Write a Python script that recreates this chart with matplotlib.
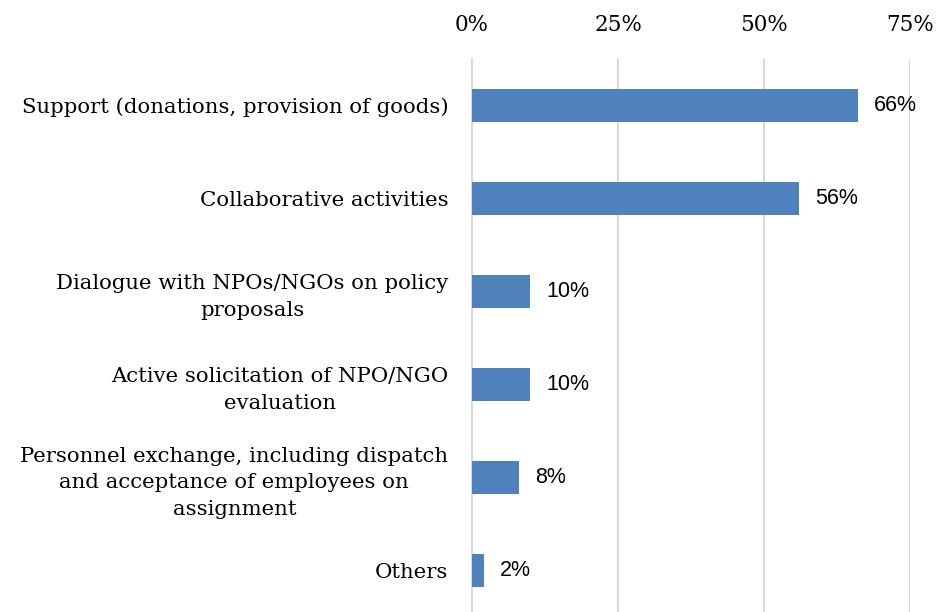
import matplotlib
matplotlib.use('Agg')
import matplotlib.pyplot as plt
from matplotlib.ticker import FuncFormatter

# Survey results: forms of engagement with NPOs/NGOs
categories = [
    'Support (donations, provision of goods)',
    'Collaborative activities',
    'Dialogue with NPOs/NGOs on policy\nproposals',
    'Active solicitation of NPO/NGO\nevaluation',
    'Personnel exchange, including dispatch\nand acceptance of employees on\nassignment',
    'Others',
]
shares = [66, 56, 10, 10, 8, 2]
ticks = [0, 25, 50, 75]

BAR_COLOR = '#4F81BD'
GRID_COLOR = '#D9D9D9'
SERIF = ['DejaVu Serif']
SANS = ['Liberation Sans', 'DejaVu Sans']

fig = plt.figure(figsize=(9.39, 6.12), dpi=100)
ax = fig.add_axes([0.5027, -0.0074, 0.4665, 0.911])

ypos = list(range(len(categories)))
ax.barh(ypos, shares, height=0.355, color=BAR_COLOR, zorder=3)

ax.set_xlim(0, 75)
ax.set_ylim(len(categories) - 0.5, -0.5)
ax.set_xticks(ticks)
ax.xaxis.set_major_formatter(FuncFormatter(lambda v, p: f'{v:.0f}%'))
ax.xaxis.tick_top()
ax.tick_params(axis='x', length=0, pad=16.5)
ax.tick_params(axis='y', length=0, pad=17)
for lbl in ax.get_xticklabels():
    lbl.set_fontfamily(SERIF)
    lbl.set_fontsize(15.5)

ax.set_yticks(ypos)
ax.set_yticklabels(categories, fontsize=15.3, family=SERIF,
                   multialignment='center', linespacing=1.5)

ax.grid(axis='x', color=GRID_COLOR, linewidth=1.5, zorder=0)
for side in ['top', 'right', 'bottom']:
    ax.spines[side].set_visible(False)
ax.spines['left'].set_color(GRID_COLOR)
ax.spines['left'].set_linewidth(1.5)

# Value labels at the end of each bar
for y, v in zip(ypos, shares):
    ax.annotate(f'{v}%', (v, y), xytext=(16, 0), textcoords='offset pixels',
                va='center', ha='left', fontsize=15.5, family=SANS, color='black')

fig.savefig('out.png', dpi=100)
